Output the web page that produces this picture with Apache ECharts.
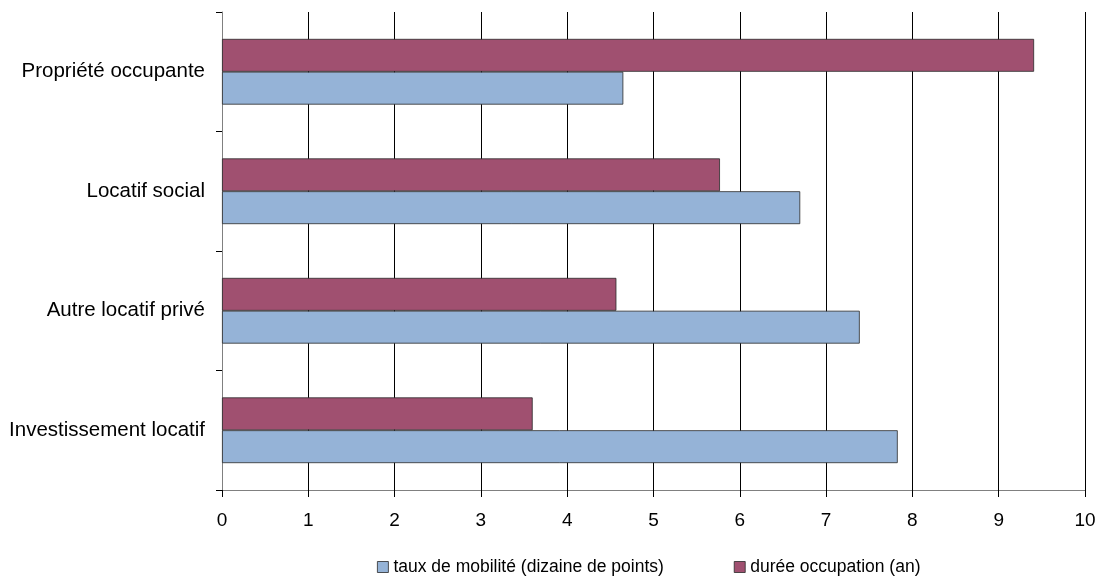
<!DOCTYPE html>
<html>
<head>
<meta charset="utf-8">
<script src="https://cdn.jsdelivr.net/npm/echarts@6/dist/echarts.min.js"></script>
<style>
  html, body { margin: 0; padding: 0; background: #fff; }
  #chart { width: 1100px; height: 581px; }
</style>
</head>
<body>
<div id="chart"></div>
<script>
// categories bottom -> top
var categories = ['Investissement locatif', 'Autre locatif privé', 'Locatif social', 'Propriété occupante'];
var tauxMobilite = [7.83, 7.39, 6.70, 4.65];
var dureeOccupation = [3.60, 4.57, 5.77, 9.41];
var seriesNames = ['taux de mobilité (dizaine de points)', 'durée occupation (an)'];

var chart = echarts.init(document.getElementById('chart'));
var option = {
  animation: false,
  textStyle: { fontFamily: 'Liberation Sans, Arial, sans-serif' },
  legend: {
    bottom: 0,
    left: 372,
    itemWidth: 11,
    itemHeight: 11,
    itemGap: 70,
    itemStyle: { borderColor: '#2a2a2a', borderWidth: 0.8 },
    icon: 'rect',
    textStyle: { fontSize: 17.5, color: '#000' },
    data: seriesNames
  },
  grid: { left: 222, right: 15, top: 12, bottom: 91 },
  xAxis: {
    type: 'value',
    min: 0,
    max: 10,
    interval: 1,
    axisLine: { show: true, lineStyle: { color: '#808080' } },
    axisTick: { show: true, length: 7, lineStyle: { color: '#000' } },
    axisLabel: { fontSize: 19, color: '#000', margin: 21 },
    splitLine: { show: true, lineStyle: { color: '#000', width: 1 } }
  },
  yAxis: {
    type: 'category',
    data: categories,
    axisLine: { show: true, lineStyle: { color: '#808080' } },
    axisTick: { show: true, length: 6, lineStyle: { color: '#000' } },
    axisLabel: { fontSize: 20.5, color: '#000', margin: 17 }
  },
  series: [
    {
      name: seriesNames[1],
      type: 'bar',
      data: dureeOccupation,
      barGap: '0%',
      barCategoryGap: '45%',
      itemStyle: { color: '#a05070', borderColor: '#2a2a2a', borderWidth: 0.8 }
    },
    {
      name: seriesNames[0],
      type: 'bar',
      data: tauxMobilite,
      barGap: '0%',
      barCategoryGap: '45%',
      itemStyle: { color: '#95b3d7', borderColor: '#2a2a2a', borderWidth: 0.8 }
    }
  ]
};
chart.setOption(option);
</script>
</body>
</html>
